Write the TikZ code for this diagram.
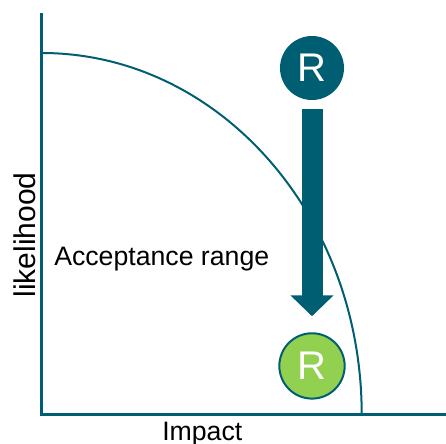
\documentclass[tikz,border=0pt]{standalone}
\usepackage{fontspec}
\setmainfont{Liberation Sans}
\usetikzlibrary{arrows.meta,positioning}
\definecolor{riskteal}{HTML}{005E73}
\definecolor{riskgreen}{HTML}{92D050}

\begin{document}
\begin{tikzpicture}[
  x=0.75pt, y=-0.75pt,
  axis/.style  = {draw=riskteal, line width=2pt},
  bound/.style = {draw=riskteal, line width=1.5pt},
  risk/.style  = {circle, minimum size=48pt, inner sep=0pt, text=white,
                  font=\fontsize{30}{30}\selectfont},
  high/.style  = {risk, fill=riskteal},
  low/.style   = {risk, fill=riskgreen, draw=riskteal, line width=1.5pt, minimum size=49pt},
  drop/.style  = {-{Triangle[length=15.75pt, width=31.5pt]}, draw=riskteal, line width=15.75pt},
  lbl/.style   = {inner sep=0pt, text=black, font=\fontsize{20}{20}\selectfont},
]
\useasboundingbox (0,0) rectangle (446,443);

% --- the axes and the boundary of the range -------------------------------------------------------
\coordinate (origin) at (41.7,414.5);
\coordinate (ytop)   at (41.7,13);
\coordinate (xend)   at (446,414.5);
\draw[axis] (ytop) -- (origin) -- (xend);
\draw[bound] (41.7,53) arc[start angle=-90, end angle=0, x radius=320, y radius=361.5];

% --- the risk before and after -------------------------------------------------------------------
\node[high] (rbefore) at (312,68) {R};
\node[low, below=174pt of rbefore] (rafter) {R};
\draw[drop, shorten <=6.75pt, shorten >=12pt] (rbefore.south) -- (rafter.north);

% --- the labels ----------------------------------------------------------------------------------
\node[lbl, anchor=base west] (range) at (54,265) {Acceptance range};
\node[lbl, anchor=base, rotate=90, font=\fontsize{22.5}{22.5}\selectfont] (ylbl) at (35,235) {likelihood};
\node[lbl, anchor=north west] (xlbl) at (162,421.7) {Impact};

\end{tikzpicture}
\end{document}
